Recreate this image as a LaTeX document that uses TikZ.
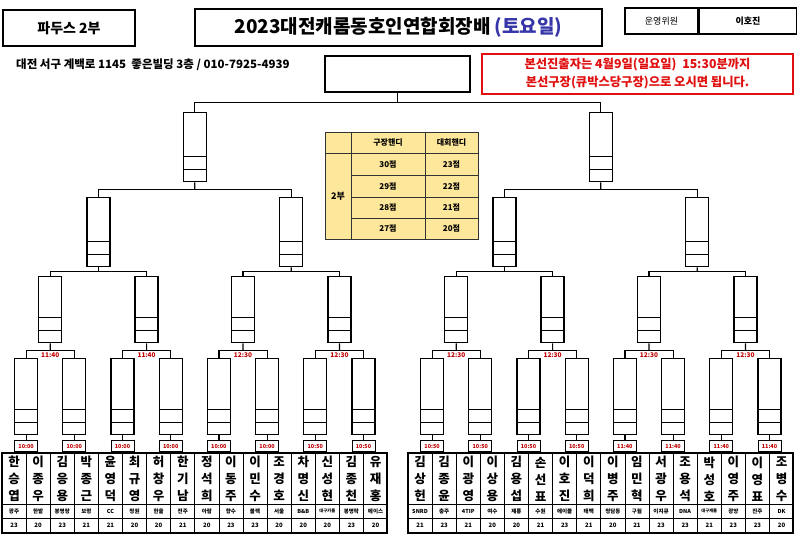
\documentclass[tikz,border=0pt]{standalone}
\usepackage{fontspec}
\setmainfont{Noto Sans CJK KR}
\usetikzlibrary{calc,positioning}
\definecolor{dayblue}{HTML}{3636A8}
\definecolor{noticered}{HTML}{E01010}
\definecolor{timered}{HTML}{C00000}
\definecolor{hcyellow}{HTML}{FDE79B}
\tikzset{
  headbox/.style={draw, line width=1.5pt, inner sep=0pt, align=center},
  noticebox/.style={draw=noticered, line width=2.2pt, text=noticered, minimum width=311pt, minimum height=40pt, inner sep=0pt, align=center, font=\fontsize{12.3}{18}\selectfont\bfseries},
  matchbox/.style={draw, line width=1.3pt, minimum width=23pt, inner sep=0pt,
    path picture={
      \draw[line width=1.1pt] ([yshift=12.5pt]path picture bounding box.south west) -- ([yshift=12.5pt]path picture bounding box.south east);
      \draw[line width=1.1pt] ([yshift=25pt]path picture bounding box.south west) -- ([yshift=25pt]path picture bounding box.south east);
    }},
  link/.style={line width=1.2pt},
  timebox/.style={draw, line width=0.9pt, fill=white, minimum width=23pt, minimum height=11pt, inner sep=0pt, text=timered, font=\fontsize{5.5}{6}\selectfont\bfseries},
  timelabel/.style={inner sep=0.5pt, text=timered, font=\fontsize{6.5}{7}\selectfont\bfseries},
  namecell/.style={inner sep=0pt, align=center, font=\fontsize{12.5}{17}\selectfont\bfseries},
  clubcell/.style={inner sep=0pt, font=\fontsize{5.5}{6}\selectfont\bfseries},
  pointcell/.style={inner sep=0pt, font=\fontsize{6}{7}\selectfont\bfseries},
  hccell/.style={inner sep=0pt, font=\fontsize{8}{9}\selectfont\bfseries},
  hcgrid/.style={draw=black!80, line width=0.8pt},
  tableframe/.style={line width=1.5pt},
  tablegrid/.style={line width=0.8pt}
}
\begin{document}
\begin{tikzpicture}[x=1pt, y=-1pt]
\useasboundingbox (0,0) rectangle (800,551);

% header
\node[headbox, minimum width=132pt, minimum height=36pt, font=\fontsize{14}{16}\selectfont\bfseries] (division) at (69,28) {파두스 2부};
\node[headbox, line width=2pt, minimum width=407pt, minimum height=37pt, font=\fontsize{19}{22}\selectfont\bfseries] (title) at (398.5,27.5) {2023대전캐롬동호인연합회장배 \textcolor{dayblue}{(토요일)}};
\node[headbox, minimum width=73pt, minimum height=26pt, font=\fontsize{9}{10}\selectfont] (staff) at (661.5,21) {운영위원};
\node[headbox, right=0pt of staff, minimum width=97pt, minimum height=26pt, font=\fontsize{9}{10}\selectfont\bfseries] (staffname) {이호진};
\node[anchor=west, inner sep=0pt, font=\fontsize{11.5}{13}\selectfont\bfseries] (address) at (16,65) {대전 서구 계백로 1145~~좋은빌딩 3층 / 010-7925-4939};
\node[noticebox] (notice) at (637.5,74) {본선진출자는 4월9일(일요일)~~15:30분까지\\본선구장(큐박스당구장)으로 오시면 됩니다.};
\node[headbox, minimum width=145pt, minimum height=36pt] (champ) at (397.5,74) {};

% handicap table
\fill[hcyellow] (325,132) rectangle (478,239);
\draw[hcgrid] (325,132) rectangle (478,239);
\draw[hcgrid] (351,132) -- (351,239) (425,132) -- (425,239) (325,153) -- (478,153);
\foreach \y in {175,197,218} \draw[hcgrid] (351,\y) -- (478,\y);
\node[hccell] (hc-head1) at (388,142.5) {구장핸디};
\node[hccell] (hc-head2) at (451.5,142.5) {대회핸디};
\node[hccell, font=\fontsize{9}{10}\selectfont\bfseries] (hc-div) at (338,196) {2부};
\foreach \a/\b/\y in {30/23/164,29/22/186,28/21/207.5,27/20/228.5} {
  \node[hccell] (hc-a\a) at (388,\y) {\a 점};
  \node[hccell] (hc-b\b) at (451.5,\y) {\b 점};
}

% bracket boxes
\foreach \s/\ox in {L/0,R/406} {
  \node[matchbox, minimum height=69pt, anchor=north] (\s-sf) at (\ox+194.8,112) {};
  \foreach \m in {0,1}
    \node[matchbox, minimum height=69pt, anchor=north] (\s-qf-\m) at (\ox+98.4+192.8*\m,197) {};
  \foreach \k in {0,...,3}
    \node[matchbox, minimum height=66pt, anchor=north] (\s-r16-\k) at (\ox+50.2+96.4*\k,276) {};
  \foreach \j in {0,...,7}
    \node[matchbox, minimum height=76pt, anchor=north] (\s-r32-\j) at (\ox+26.1+48.2*\j,358) {};
}

% connectors
\coordinate (jc) at ($(champ.south)!.5!(champ.south |- L-sf.north)$);
\draw[link] (L-sf.north) |- (jc) -| (R-sf.north);
\draw[link] (champ.south) -- (jc);
\foreach \s in {L,R} {
  \coordinate (\s-jsf) at ($(\s-sf.south)!.5!(\s-sf.south |- \s-qf-0.north)$);
  \draw[link] (\s-qf-0.north) |- (\s-jsf) -| (\s-qf-1.north);
  \draw[link] (\s-sf.south) -- (\s-jsf);
  \foreach \m in {0,1} {
    \pgfmathtruncatemacro\a{2*\m}
    \pgfmathtruncatemacro\b{2*\m+1}
    \coordinate (\s-jqf-\m) at ($(\s-qf-\m.south)!.5!(\s-qf-\m.south |- \s-r16-\a.north)$);
    \draw[link] (\s-r16-\a.north) |- (\s-jqf-\m) -| (\s-r16-\b.north);
    \draw[link] (\s-qf-\m.south) -- (\s-jqf-\m);
  }
  \foreach \k in {0,...,3} {
    \pgfmathtruncatemacro\a{2*\k}
    \pgfmathtruncatemacro\b{2*\k+1}
    \coordinate (\s-j16-\k) at ($(\s-r16-\k.south)!.5!(\s-r16-\k.south |- \s-r32-\a.north)$);
    \draw[link] (\s-r32-\a.north) |- (\s-j16-\k) -| (\s-r32-\b.north);
    \draw[link] (\s-r16-\k.south) -- (\s-j16-\k);
  }
}

% round of 16 times
\foreach \t [count=\k from 0] in {11:40,11:40,12:30,12:30}
  \node[timelabel, anchor=north, yshift=-1pt] (L-tl-\k) at (L-j16-\k) {\t};
\foreach \t [count=\k from 0] in {12:30,12:30,12:30,12:30}
  \node[timelabel, anchor=north, yshift=-1pt] (R-tl-\k) at (R-j16-\k) {\t};

% first round times
\foreach \t [count=\j from 0] in {10:00,10:00,10:00,10:00,10:00,10:00,10:50,10:50} {
  \node[timebox, anchor=south] (L-t-\j) at (L-r32-\j.south |- 0,452) {\t};
  \draw[link] (L-r32-\j.south) -- (L-t-\j.north);
}
\foreach \t [count=\j from 0] in {10:50,10:50,10:50,10:50,11:40,11:40,11:40,11:40} {
  \node[timebox, anchor=south] (R-t-\j) at (R-r32-\j.south |- 0,452) {\t};
  \draw[link] (R-r32-\j.south) -- (R-t-\j.north);
}

% player tables
\foreach \ox in {0,406} {
  \foreach \i in {1,...,15}
    \draw[tablegrid] (\ox+2+24.1*\i,453) -- (\ox+2+24.1*\i,533);
  \draw[tablegrid] (\ox+2,504) -- (\ox+387,504) (\ox+2,518) -- (\ox+387,518);
  \draw[tableframe] (\ox+2,453) rectangle (\ox+387,533);
}
\foreach \nm/\cl/\pt [count=\i from 0] in {
  {한\\승\\엽}/광주/23, {이\\종\\우}/한밭/20, {김\\응\\용}/봉명랑/23, {박\\종\\근}/보령/21,
  {윤\\영\\덕}/CC/21, {최\\규\\영}/청원/20, {허\\창\\우}/한울/20, {한\\기\\남}/전주/21,
  {정\\석\\희}/아람/20, {이\\동\\주}/향수/23, {이\\민\\수}/블랙/23, {조\\경\\호}/서울/20,
  {차\\명\\신}/B\&B/20, {신\\성\\현}/{\fontsize{4.3}{5}\selectfont 대구카롬}/20, {김\\종\\천}/봉명락/23, {유\\재\\홍}/에이스/20} {
  \pgfmathsetmacro\px{14.05+24.1*\i}
  \node[namecell] (L-name-\i) at (\px,479) {\nm};
  \node[clubcell] (L-club-\i) at (\px,511) {\cl};
  \node[pointcell] (L-pt-\i) at (\px,525.5) {\pt};
}
\foreach \nm/\cl/\pt [count=\i from 0] in {
  {김\\상\\헌}/SNRD/21, {김\\종\\윤}/충주/23, {이\\광\\영}/4TIP/21, {이\\상\\용}/여수/20,
  {김\\용\\섭}/제룡/20, {손\\선\\표}/수원/21, {이\\호\\진}/에이블/23, {이\\덕\\희}/태백/21,
  {이\\병\\주}/청담동/20, {임\\민\\혁}/구월/21, {서\\광\\우}/이지큐/23, {조\\용\\석}/DNA/23,
  {박\\성\\호}/{\fontsize{4.3}{5}\selectfont 대구캐롬}/21, {이\\영\\주}/광양/23, {이\\영\\표}/진주/23, {조\\병\\수}/DK/20} {
  \pgfmathsetmacro\px{420.05+24.1*\i}
  \node[namecell] (R-name-\i) at (\px,479) {\nm};
  \node[clubcell] (R-club-\i) at (\px,511) {\cl};
  \node[pointcell] (R-pt-\i) at (\px,525.5) {\pt};
}
\end{tikzpicture}
\end{document}
